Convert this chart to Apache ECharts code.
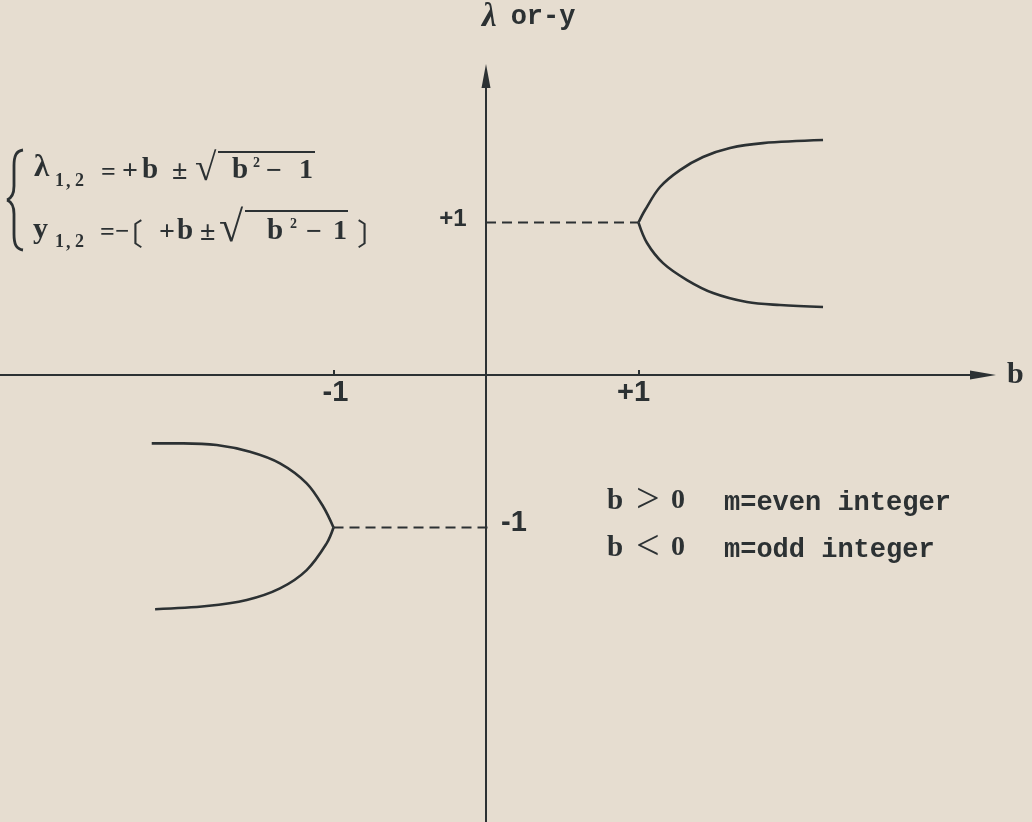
<!DOCTYPE html>
<html>
<head>
<meta charset="utf-8">
<script src="https://cdn.jsdelivr.net/npm/echarts@6/dist/echarts.min.js"></script>
<style>
  html, body { margin: 0; padding: 0; background: #e6ddd0; }
  #chart { width: 1032px; height: 822px; }
</style>
</head>
<body>
<div id="chart"></div>
<script>
// Roots of λ² − 2bλ + 1 = 0 sketched for |b| ≥ 1 (b > 0: λ branches, b < 0: −y branches)
const rightUpper = [[1, 1], [1.043, 1.082], [1.141, 1.233], [1.272, 1.344], [1.423, 1.430], [1.600, 1.489], [1.816, 1.521], [2.21, 1.541]];
const rightLower = [[1, 1], [1.056, 0.866], [1.161, 0.734], [1.318, 0.623], [1.489, 0.538], [1.711, 0.479], [1.928, 0.459], [2.21, 0.446]];
const leftUpper = [[-1, -1], [-1.067, -0.864], [-1.176, -0.710], [-1.351, -0.579], [-1.548, -0.503], [-1.766, -0.459], [-1.985, -0.448], [-2.192, -0.448]];
const leftLower = [[-1, -1], [-1.045, -1.104], [-1.176, -1.279], [-1.351, -1.399], [-1.569, -1.475], [-1.831, -1.515], [-2.17, -1.536]];

// guide lines from the axis to the branch points
const guidePos = [[0, 1], [1, 1]];
const guideNeg = [[-1, -1], [0.04, -1]];

// unit marks on both axes
const xTickValues = [-1, 1];
const unitLabels = [
  { value: [-1, 0], text: '-1' },
  { value: [1, 0], text: '+1' },
  { value: [0, 1], text: '+1' },
  { value: [0, -1], text: '-1' }
];

const ink = '#2c3133';
const paper = '#e6ddd0';
const serif = '"Liberation Serif", "DejaVu Serif", serif';
const mono = '"Liberation Mono", "DejaVu Sans Mono", monospace';
const sans = '"Liberation Sans", "DejaVu Sans", sans-serif';
const cjk = '"Noto Sans CJK SC", serif';

function t(text, x, y, size, family, weight) {
  return {
    type: 'text', x: x, y: y, silent: true,
    style: {
      text: text, fill: ink,
      font: (weight || 'bold') + ' ' + size + 'px ' + family,
      align: 'left', verticalAlign: 'middle'
    }
  };
}
function bar(x1, x2, y) {
  return { type: 'line', silent: true, shape: { x1: x1, y1: y, x2: x2, y2: y }, style: { stroke: ink, lineWidth: 2 } };
}
function curve(x1, y1, c1x, c1y, c2x, c2y, x2, y2) {
  return {
    type: 'bezierCurve', silent: true,
    shape: { x1: x1, y1: y1, cpx1: c1x, cpy1: c1y, cpx2: c2x, cpy2: c2y, x2: x2, y2: y2 },
    style: { stroke: ink, fill: null, lineWidth: 2.8 }
  };
}
function seg(x1, y1, x2, y2, w) {
  return { type: 'line', silent: true, shape: { x1: x1, y1: y1, x2: x2, y2: y2 }, style: { stroke: ink, lineWidth: w } };
}

const formula = [
  // left brace grouping both equations
  curve(23, 150, 16, 151, 14, 156, 14, 166),
  seg(14, 166, 14, 186, 2.8),
  curve(14, 186, 14, 194, 12, 198, 7, 200),
  curve(7, 200, 12, 202, 14, 206, 14, 214),
  seg(14, 214, 14, 234, 2.8),
  curve(14, 234, 14, 244, 16, 249, 23, 250),
  // λ1,2 = +b ± √(b² − 1)
  t('λ', 34, 168, 31, serif),
  t('1', 55, 181, 18, serif),
  t(',', 66, 182, 18, serif),
  t('2', 75, 181, 18, serif),
  t('=', 101, 173, 26, serif),
  t('+', 122, 172, 28, serif),
  t('b', 142, 171, 29, serif),
  t('±', 172, 172, 28, serif),
  t('√', 195, 170, 39, serif),
  bar(218, 315, 152),
  t('b', 232, 171, 29, serif),
  t('2', 253, 163, 14, serif),
  t('−', 266, 172, 28, serif),
  t('1', 299, 171, 28, serif),
  // y1,2 = −[+b ± √(b² − 1)]
  t('y', 33, 230, 30, serif),
  t('1', 55, 242, 18, serif),
  t(',', 66, 243, 18, serif),
  t('2', 75, 242, 18, serif),
  t('=', 100, 233, 26, serif),
  t('−', 115, 233, 25, serif),
  t('〔', 113, 234, 30, cjk, 'normal'),
  t('+', 159, 233, 28, serif),
  t('b', 177, 232, 29, serif),
  t('±', 200, 233, 28, serif),
  t('√', 219, 230, 44, serif),
  bar(245, 348, 211),
  t('b', 267, 232, 29, serif),
  t('2', 290, 224, 14, serif),
  t('−', 306, 233, 28, serif),
  t('1', 333, 232, 28, serif),
  t('〕', 357, 234, 30, cjk, 'normal'),
  // sign conditions
  t('b', 607, 502, 29, serif),
  t('>', 636, 501, 42, serif, 'normal'),
  t('0', 671, 501, 28, serif),
  t('m=even integer', 724, 503, 27, mono),
  t('b', 607, 549, 29, serif),
  t('<', 636, 548, 42, serif, 'normal'),
  t('0', 671, 548, 28, serif),
  t('m=odd integer', 724, 550, 27, mono)
];

const chart = echarts.init(document.getElementById('chart'), null, { renderer: 'canvas' });

function branch(data) {
  return {
    type: 'line', data: data, smooth: 0.35, showSymbol: false, silent: true,
    lineStyle: { color: ink, width: 2.6 }, z: 3
  };
}
function guide(data) {
  return {
    type: 'line', data: data, showSymbol: false, silent: true,
    lineStyle: { color: ink, width: 2, type: [10, 6] }, z: 3
  };
}

const labelOffsets = [[2, 18], [-5, 18], [-33, -3], [28, -5]];
const labelSizes = [29, 29, 24, 29];

chart.setOption({
  backgroundColor: paper,
  animation: false,
  grid: { left: 0, right: 49, top: 76, bottom: 0, containLabel: false },
  xAxis: {
    type: 'value', min: -3.187, max: 3.259,
    name: 'b', nameLocation: 'end', nameGap: 24,
    nameTextStyle: { color: ink, fontFamily: serif, fontWeight: 'bold', fontSize: 30, verticalAlign: 'middle', padding: [0, 0, 6, 0] },
    axisLine: { onZero: true, symbol: ['none', 'triangle'], symbolSize: [9, 26], lineStyle: { color: ink, width: 2 } },
    axisTick: { show: true, inside: true, length: 5, customValues: xTickValues, lineStyle: { color: ink, width: 2 } },
    axisLabel: { show: false },
    splitLine: { show: false }
  },
  yAxis: {
    type: 'value', min: -2.931, max: 1.961,
    name: '{l|λ}{r|or-y}', nameLocation: 'end', nameGap: 42,
    nameTextStyle: {
      align: 'left', padding: [0, 0, 0, -4],
      rich: {
        l: { color: ink, fontFamily: serif, fontStyle: 'italic', fontWeight: 'bold', fontSize: 33 },
        r: { color: ink, fontFamily: mono, fontWeight: 'bold', fontSize: 27, padding: [0, 0, 0, 14] }
      }
    },
    axisLine: { onZero: true, symbol: ['none', 'triangle'], symbolSize: [9, 24], lineStyle: { color: ink, width: 2 } },
    axisTick: { show: false },
    axisLabel: { show: false },
    splitLine: { show: false }
  },
  graphic: formula,
  series: [
    branch(rightUpper), branch(rightLower), branch(leftUpper), branch(leftLower),
    guide(guidePos), guide(guideNeg),
    {
      type: 'scatter', symbolSize: 0, silent: true, z: 4,
      itemStyle: { opacity: 1 },
      data: unitLabels.map(function (d, i) {
        return {
          value: d.value,
          label: {
            show: true, formatter: d.text, position: 'inside',
            offset: labelOffsets[i], color: ink, opacity: 1, textBorderWidth: 0,
            fontFamily: sans, fontWeight: 'bold', fontSize: labelSizes[i]
          }
        };
      })
    }
  ]
});
</script>
</body>
</html>
